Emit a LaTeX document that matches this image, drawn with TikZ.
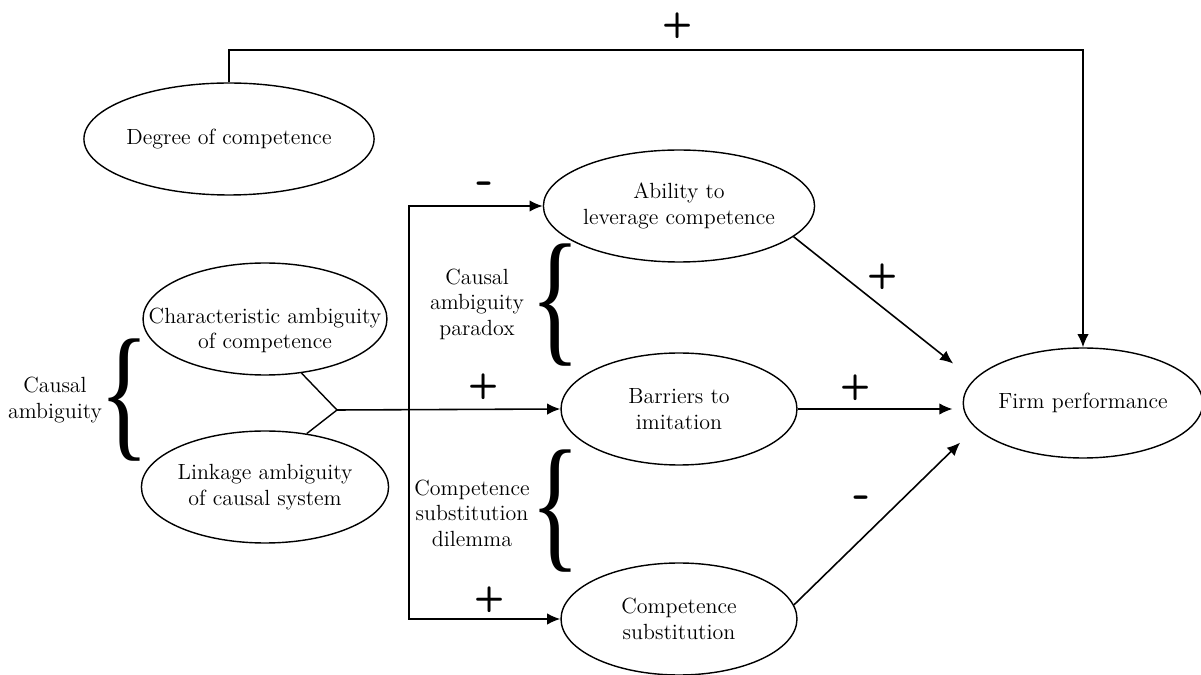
\documentclass[tikz,border=0pt]{standalone}
\usepackage{fontspec}
\usepackage{tikz}
\usetikzlibrary{shapes.geometric, arrows.meta}
\newfontfamily\bracefont{Liberation Serif}

\begin{document}
\begin{tikzpicture}[x=0.02cm, y=-0.02cm, font=\fontsize{12.5}{14.5}\selectfont]
	\tikzset{oval/.style={draw, ellipse, line width=0.8pt, minimum width=4.72cm, minimum height=2.24cm, inner sep=0pt, align=center}}
	\tikzset{link/.style={line width=0.9pt, -{Latex[length=7.5pt, width=6.5pt]}}}
	\tikzset{sign/.style={font=\fontsize{20}{20}\selectfont\sffamily\bfseries}}
	\tikzset{minus/.style={font=\fontsize{27}{27}\selectfont\sffamily\bfseries}}
	\tikzset{curly/.style={inner sep=0pt}}
	
	\useasboundingbox (0,0) rectangle (1201,675);
	
	% ellipses
	\node[oval] (degree) at (229,139) {Degree of competence};
	\node[oval, minimum width=4.88cm, label={[align=center, yshift=-0.23cm]center:Characteristic ambiguity\\of competence}] (charamb) at (265,319) {};
	\node[oval, minimum width=4.88cm] (linkamb) at (265,487) {Linkage ambiguity\\of causal system};
	\node[oval] (ability) at (679,206) {Ability to\\leverage competence};
	\node[oval] (barriers) at (679,409) {Barriers to\\imitation};
	\node[oval] (subst) at (679,619) {Competence\\substitution};
	\node[oval, minimum height=2.2cm] (firm) at (1083,403) {Firm performance};
	
	% braces and their texts
	\node[curly] (bcausal) at (125,400) {\resizebox*{1.0cm}{2.45cm}{\bracefont\{}};
	\node[curly] (bparadox) at (555,305) {\resizebox*{1.0cm}{2.45cm}{\bracefont\{}};
	\node[curly] (bdilemma) at (555,511) {\resizebox*{1.0cm}{2.45cm}{\bracefont\{}};
	
	\node[align=center] (causal) at (55,400) {Causal\\ambiguity};
	\node[align=center] (paradox) at (477,304) {Causal\\ambiguity\\paradox};
	\node[align=center] (dilemma) at (472,513) {Competence\\substitution\\dilemma};
	
	% connectors
	\coordinate (topright) at (1083,50);
	\coordinate (fork) at (337,410);
	\coordinate (split) at (409,410);
	
	\draw[link] (degree.north) |- (topright) -- (firm.north);
	\draw[line width=0.8pt] (charamb.-56) -- (fork) -- (linkamb.52);
	\draw[link] (fork) -- (barriers.west);
	\draw[link] (split) |- (ability.west);
	\draw[link] (split) |- (subst.west);
	
	\draw[link, shorten >=0.52cm] (ability.-15) -- (firm.168);
	\draw[link, shorten >=0.2cm] (barriers.east) -- (barriers.east -| firm.west);
	\draw[link, shorten >=0.42cm] (subst.7) -- (firm.193);
	
	% signs
	\node[sign] (ptop) at (678,26) {+};
	\node[minus] (mability) at (485,188) {-};
	\node[sign] (pbarriers) at (484,387) {+};
	\node[sign] (psubst) at (490,600) {+};
	\node[sign] (pabilfirm) at (883,277) {+};
	\node[sign] (pbarrfirm) at (856,388) {+};
	\node[minus] (msubstfirm) at (862,502) {-};
\end{tikzpicture}
\end{document}
